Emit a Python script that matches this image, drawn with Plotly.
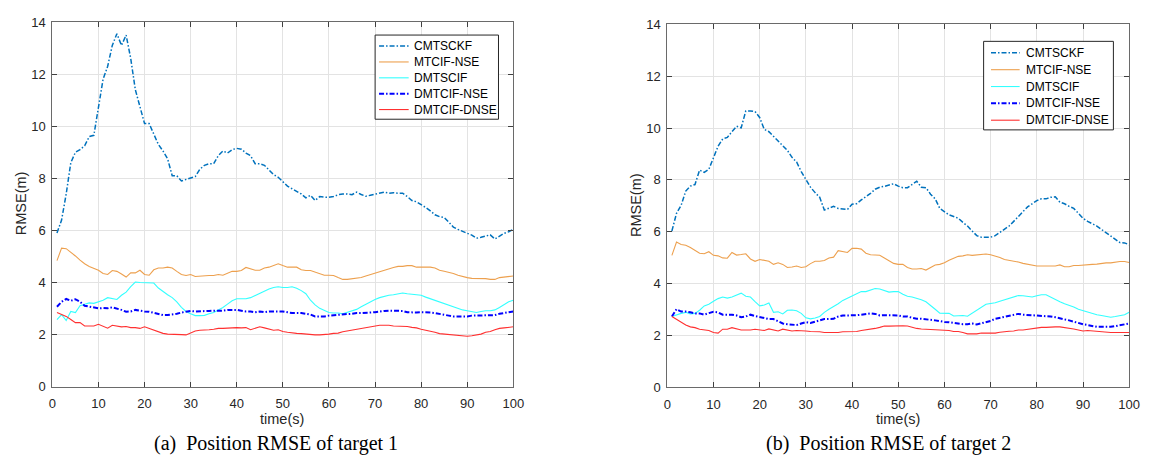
import plotly.graph_objects as go

t = list(range(1, 101))

# ---- Target 1 ----
cmtsckf_1 = [5.9, 6.4, 7.4, 8.6, 9.0, 9.1, 9.25, 9.6, 9.65, 10.7,
             11.8, 12.3, 13.1, 13.55, 13.1, 13.5, 12.6, 11.4, 10.8, 10.1,
             10.1, 9.7, 9.3, 9.05, 8.75, 8.1, 8.1, 7.9, 7.95, 8.0,
             8.07, 8.35, 8.5, 8.56, 8.56, 8.87, 9.05, 8.97, 9.1, 9.15,
             9.12, 8.97, 8.87, 8.56, 8.56, 8.5, 8.32, 8.14, 8.04, 7.85,
             7.7, 7.6, 7.5, 7.4, 7.25, 7.35, 7.15, 7.3, 7.28, 7.27,
             7.3, 7.37, 7.4, 7.4, 7.37, 7.47, 7.38, 7.31, 7.35, 7.4,
             7.45, 7.47, 7.43, 7.45, 7.43, 7.43, 7.3, 7.15, 7.1, 7.0,
             6.88, 6.75, 6.6, 6.53, 6.5, 6.32, 6.13, 6.04, 5.95, 5.89,
             5.82, 5.7, 5.74, 5.8, 5.83, 5.67, 5.79, 5.89, 5.95, 6.04]
mtcif_nse_1 = [4.84, 5.32, 5.30, 5.17, 5.02, 4.86, 4.72, 4.62, 4.56, 4.47,
               4.35, 4.31, 4.46, 4.43, 4.33, 4.21, 4.37, 4.37, 4.47, 4.31,
               4.28, 4.49, 4.56, 4.56, 4.59, 4.56, 4.43, 4.31, 4.27, 4.31,
               4.23, 4.25, 4.25, 4.27, 4.27, 4.31, 4.28, 4.37, 4.43, 4.43,
               4.46, 4.58, 4.53, 4.47, 4.47, 4.56, 4.59, 4.65, 4.72, 4.65,
               4.59, 4.59, 4.59, 4.49, 4.46, 4.46, 4.40, 4.35, 4.28, 4.28,
               4.27, 4.19, 4.12, 4.12, 4.15, 4.16, 4.19, 4.25, 4.31, 4.37,
               4.43, 4.49, 4.53, 4.58, 4.62, 4.62, 4.65, 4.65, 4.59, 4.59,
               4.59, 4.59, 4.56, 4.47, 4.43, 4.40, 4.35, 4.28, 4.22, 4.19,
               4.16, 4.16, 4.15, 4.15, 4.12, 4.12, 4.19, 4.21, 4.22, 4.25]
dmtscif_1 = [2.58, 2.77, 2.54, 2.89, 2.85, 3.11, 3.17, 3.22, 3.20, 3.26,
             3.32, 3.42, 3.38, 3.35, 3.51, 3.63, 3.84, 4.02, 4.00, 4.00,
             3.98, 3.98, 3.79, 3.65, 3.53, 3.42, 3.26, 3.05, 2.89, 2.80,
             2.73, 2.73, 2.74, 2.80, 2.85, 2.95, 3.04, 3.17, 3.30, 3.38,
             3.38, 3.38, 3.42, 3.51, 3.60, 3.69, 3.75, 3.81, 3.84, 3.81,
             3.81, 3.84, 3.78, 3.69, 3.57, 3.32, 3.14, 3.01, 2.92, 2.85,
             2.83, 2.83, 2.80, 2.85, 2.91, 2.97, 3.07, 3.17, 3.26, 3.35,
             3.42, 3.47, 3.51, 3.53, 3.57, 3.60, 3.57, 3.55, 3.53, 3.51,
             3.44, 3.38, 3.32, 3.26, 3.20, 3.14, 3.07, 3.01, 2.95, 2.92,
             2.89, 2.85, 2.89, 2.92, 2.92, 2.95, 3.04, 3.14, 3.26, 3.32]
dmtcif_nse_1 = [3.07, 3.26, 3.37, 3.30, 3.36, 3.26, 3.11, 3.07, 3.05, 3.01,
                3.02, 3.01, 3.05, 3.01, 2.95, 2.88, 2.89, 2.95, 2.91, 2.89,
                2.88, 2.83, 2.79, 2.75, 2.75, 2.77, 2.80, 2.85, 2.89, 2.91,
                2.89, 2.89, 2.89, 2.91, 2.92, 2.92, 2.92, 2.95, 2.95, 2.95,
                2.92, 2.89, 2.89, 2.86, 2.89, 2.86, 2.89, 2.89, 2.89, 2.89,
                2.86, 2.83, 2.83, 2.83, 2.80, 2.77, 2.70, 2.70, 2.70, 2.73,
                2.75, 2.77, 2.77, 2.79, 2.80, 2.83, 2.83, 2.83, 2.85, 2.86,
                2.89, 2.91, 2.92, 2.92, 2.92, 2.91, 2.86, 2.85, 2.85, 2.86,
                2.86, 2.85, 2.83, 2.79, 2.77, 2.73, 2.70, 2.70, 2.70, 2.70,
                2.73, 2.73, 2.73, 2.74, 2.74, 2.75, 2.80, 2.83, 2.85, 2.89]
dmtcif_dnse_1 = [2.85, 2.79, 2.70, 2.58, 2.46, 2.46, 2.33, 2.33, 2.33, 2.40,
                 2.33, 2.25, 2.36, 2.33, 2.30, 2.31, 2.27, 2.27, 2.24, 2.30,
                 2.24, 2.17, 2.11, 2.05, 2.02, 2.02, 2.02, 2.00, 1.99, 2.06,
                 2.14, 2.17, 2.17, 2.19, 2.21, 2.24, 2.24, 2.25, 2.27, 2.27,
                 2.26, 2.27, 2.19, 2.24, 2.30, 2.26, 2.21, 2.17, 2.19, 2.12,
                 2.09, 2.06, 2.05, 2.04, 2.02, 2.00, 1.99, 1.99, 2.00, 2.02,
                 2.05, 2.06, 2.11, 2.14, 2.17, 2.20, 2.24, 2.27, 2.31, 2.33,
                 2.36, 2.36, 2.36, 2.33, 2.33, 2.31, 2.31, 2.28, 2.26, 2.21,
                 2.17, 2.15, 2.09, 2.04, 2.02, 2.02, 2.00, 1.96, 1.96, 1.94,
                 1.96, 1.99, 2.02, 2.09, 2.12, 2.19, 2.24, 2.26, 2.28, 2.30]

# ---- Target 2 ----
cmtsckf_2 = [6.03, 6.71, 7.02, 7.57, 7.76, 7.82, 8.38, 8.29, 8.41, 8.87,
             9.30, 9.58, 9.64, 9.86, 10.07, 10.01, 10.66, 10.66, 10.64, 10.41,
             9.95, 9.86, 9.67, 9.49, 9.30, 9.14, 8.87, 8.69, 8.32, 8.00,
             7.72, 7.51, 7.33, 6.84, 6.90, 6.98, 6.90, 6.87, 6.86, 7.06,
             7.08, 7.23, 7.35, 7.48, 7.64, 7.72, 7.75, 7.80, 7.85, 7.76,
             7.70, 7.70, 7.82, 7.95, 7.72, 7.70, 7.45, 7.27, 6.90, 6.77,
             6.65, 6.59, 6.52, 6.36, 6.22, 6.03, 5.85, 5.79, 5.79, 5.79,
             5.85, 5.97, 6.07, 6.22, 6.40, 6.59, 6.77, 6.96, 7.08, 7.20,
             7.27, 7.27, 7.33, 7.35, 7.14, 7.08, 6.98, 6.90, 6.71, 6.52,
             6.40, 6.31, 6.22, 6.09, 5.97, 5.85, 5.72, 5.58, 5.57, 5.50]
mtcif_nse_2 = [5.09, 5.60, 5.51, 5.48, 5.39, 5.27, 5.17, 5.15, 5.23, 5.09,
               5.07, 4.99, 4.98, 5.20, 5.10, 5.12, 5.15, 4.95, 4.86, 4.93,
               4.90, 4.86, 4.74, 4.80, 4.74, 4.62, 4.64, 4.68, 4.62, 4.65,
               4.77, 4.86, 4.86, 4.89, 4.99, 5.02, 5.27, 5.23, 5.20, 5.36,
               5.36, 5.33, 5.17, 5.11, 5.11, 5.09, 4.99, 4.89, 4.78, 4.74,
               4.74, 4.62, 4.56, 4.56, 4.58, 4.52, 4.62, 4.72, 4.74, 4.80,
               4.90, 4.99, 5.05, 5.07, 5.11, 5.09, 5.11, 5.11, 5.14, 5.11,
               5.07, 5.01, 4.93, 4.90, 4.86, 4.83, 4.78, 4.74, 4.72, 4.68,
               4.68, 4.68, 4.70, 4.68, 4.72, 4.65, 4.65, 4.70, 4.70, 4.72,
               4.73, 4.74, 4.75, 4.78, 4.80, 4.80, 4.83, 4.85, 4.85, 4.81]
dmtscif_2 = [2.73, 2.80, 2.85, 2.89, 2.83, 2.85, 2.97, 3.14, 3.20, 3.32,
             3.42, 3.48, 3.44, 3.48, 3.54, 3.63, 3.51, 3.48, 3.30, 3.14,
             3.17, 3.25, 2.89, 2.91, 2.83, 2.97, 2.98, 2.95, 2.85, 2.68,
             2.64, 2.67, 2.73, 2.89, 3.01, 3.11, 3.22, 3.35, 3.44, 3.51,
             3.60, 3.69, 3.69, 3.75, 3.81, 3.79, 3.72, 3.67, 3.69, 3.69,
             3.59, 3.51, 3.48, 3.44, 3.38, 3.30, 3.17, 3.01, 2.86, 2.85,
             2.85, 2.75, 2.77, 2.77, 2.74, 2.86, 2.95, 3.07, 3.20, 3.23,
             3.26, 3.32, 3.38, 3.44, 3.51, 3.54, 3.53, 3.51, 3.48, 3.53,
             3.57, 3.57, 3.47, 3.38, 3.30, 3.22, 3.17, 3.10, 3.01, 2.95,
             2.91, 2.85, 2.80, 2.77, 2.73, 2.70, 2.73, 2.77, 2.80, 2.89]
dmtcif_nse_2 = [2.73, 3.01, 2.92, 2.92, 2.89, 2.85, 2.85, 2.80, 2.86, 2.91,
                2.89, 2.80, 2.80, 2.80, 2.77, 2.70, 2.73, 2.80, 2.75, 2.70,
                2.67, 2.63, 2.63, 2.56, 2.46, 2.43, 2.41, 2.40, 2.46, 2.51,
                2.48, 2.52, 2.58, 2.63, 2.63, 2.64, 2.73, 2.77, 2.77, 2.77,
                2.78, 2.80, 2.83, 2.85, 2.83, 2.77, 2.78, 2.78, 2.77, 2.77,
                2.73, 2.73, 2.68, 2.64, 2.64, 2.63, 2.60, 2.58, 2.54, 2.52,
                2.51, 2.48, 2.46, 2.43, 2.43, 2.46, 2.42, 2.46, 2.52, 2.56,
                2.64, 2.68, 2.73, 2.77, 2.80, 2.83, 2.80, 2.79, 2.77, 2.78,
                2.77, 2.75, 2.73, 2.70, 2.67, 2.62, 2.58, 2.52, 2.48, 2.43,
                2.40, 2.37, 2.33, 2.33, 2.33, 2.33, 2.36, 2.40, 2.43, 2.46]
dmtcif_dnse_2 = [2.73, 2.62, 2.49, 2.40, 2.33, 2.30, 2.24, 2.21, 2.19, 2.11,
                 2.09, 2.24, 2.24, 2.30, 2.25, 2.21, 2.21, 2.21, 2.24, 2.21,
                 2.19, 2.25, 2.21, 2.17, 2.24, 2.21, 2.17, 2.19, 2.19, 2.17,
                 2.15, 2.15, 2.14, 2.11, 2.11, 2.09, 2.11, 2.14, 2.15, 2.14,
                 2.15, 2.19, 2.21, 2.24, 2.27, 2.31, 2.36, 2.36, 2.37, 2.37,
                 2.37, 2.36, 2.31, 2.27, 2.25, 2.24, 2.21, 2.21, 2.21, 2.19,
                 2.19, 2.15, 2.15, 2.11, 2.06, 2.06, 2.06, 2.09, 2.09, 2.09,
                 2.09, 2.12, 2.15, 2.16, 2.17, 2.21, 2.21, 2.24, 2.26, 2.28,
                 2.31, 2.31, 2.33, 2.33, 2.33, 2.31, 2.27, 2.25, 2.21, 2.17,
                 2.19, 2.17, 2.15, 2.15, 2.12, 2.11, 2.11, 2.11, 2.11, 2.11]

names = ["CMTSCKF", "MTCIF-NSE", "DMTSCIF", "DMTCIF-NSE", "DMTCIF-DNSE"]
x_ticks = [0, 10, 20, 30, 40, 50, 60, 70, 80, 90, 100]
y_ticks = [0, 2, 4, 6, 8, 10, 12, 14]
captions = ["(a)  Position RMSE of target 1", "(b)  Position RMSE of target 2"]

DASHDOT = "5px,2px,1.5px,2px"
styles = [
    dict(color="#0072BD", width=1.5, dash=DASHDOT),
    dict(color="#EDA04E", width=1.1, dash="solid"),
    dict(color="#33FFFF", width=1.1, dash="solid"),
    dict(color="#0000FF", width=2.0, dash=DASHDOT),
    dict(color="#FF3030", width=1.1, dash="solid"),
]

series1 = [cmtsckf_1, mtcif_nse_1, dmtscif_1, dmtcif_nse_1, dmtcif_dnse_1]
series2 = [cmtsckf_2, mtcif_nse_2, dmtscif_2, dmtcif_nse_2, dmtcif_dnse_2]

W, H = 1155, 462
fig = go.Figure()
for i, (nm, ys) in enumerate(zip(names, series1)):
    fig.add_trace(go.Scatter(x=t, y=ys, mode="lines", name=nm, line=styles[i],
                             xaxis="x", yaxis="y", showlegend=False))
for i, (nm, ys) in enumerate(zip(names, series2)):
    fig.add_trace(go.Scatter(x=t, y=ys, mode="lines", name=nm, line=styles[i],
                             xaxis="x2", yaxis="y2", showlegend=False))

SANS = "Liberation Sans, Arial, sans-serif"
tickfont = dict(family=SANS, size=13, color="#262626")
axis_common = dict(
    showline=True, linecolor="#6a6a6a", linewidth=1, mirror="ticks",
    ticks="inside", ticklen=5, tickcolor="#404040", tickwidth=1,
    showgrid=True, gridcolor="#e3e3e3", gridwidth=1, zeroline=False,
    tickfont=tickfont,
)


def px_x(p):
    return p / W


def px_y(p):
    return 1 - p / H


fig.update_layout(
    width=W, height=H,
    margin=dict(l=0, r=0, t=0, b=0),
    paper_bgcolor="white", plot_bgcolor="white",
    showlegend=False,
    xaxis=dict(domain=[px_x(49), px_x(516)], range=[0, 100], tickvals=x_ticks,
               anchor="y", ticklabelstandoff=5, **axis_common),
    yaxis=dict(domain=[px_y(392.5), px_y(15.5)], range=[0, 14], tickvals=y_ticks,
               anchor="x", ticklabelstandoff=3, **axis_common),
    xaxis2=dict(domain=[px_x(672), px_x(1140)], range=[0, 100], tickvals=x_ticks,
                anchor="y2", ticklabelstandoff=5, **axis_common),
    yaxis2=dict(domain=[px_y(393), px_y(18)], range=[0, 14], tickvals=y_ticks,
                anchor="x2", ticklabelstandoff=3, **axis_common),
)

shapes = []
ann = []

# legend boxes (drawn as in the original figure)
legend_specs = [
    dict(box=(376, 29, 501, 116), line_x=(380, 410), text_x=413,
         rows=[40.3, 56.8, 73.2, 89.6, 106.0]),
    dict(box=(992.5, 35.5, 1124, 127), line_x=(1000, 1029), text_x=1033,
         rows=[47.3, 64.8, 82.2, 99.6, 117.0]),
]
legend_font = dict(family=SANS, size=12, color="#000")
for spec in legend_specs:
    x0, y0, x1, y1 = spec["box"]
    shapes.append(dict(type="rect", xref="paper", yref="paper",
                       x0=px_x(x0), x1=px_x(x1), y0=px_y(y1), y1=px_y(y0),
                       line=dict(color="#262626", width=1), fillcolor="white",
                       layer="above"))
    for i, nm in enumerate(names):
        ry = spec["rows"][i]
        st = styles[i]
        shapes.append(dict(type="line", xref="paper", yref="paper",
                           x0=px_x(spec["line_x"][0]), x1=px_x(spec["line_x"][1]),
                           y0=px_y(ry), y1=px_y(ry),
                           line=dict(color=st["color"], width=st["width"], dash=st["dash"]),
                           layer="above"))
        ann.append(dict(text=nm, x=px_x(spec["text_x"]), y=px_y(ry), xref="paper", yref="paper",
                        showarrow=False, font=legend_font, xanchor="left", yanchor="middle"))

label_font = dict(family=SANS, size=14.5, color="#262626")
cap_font = dict(family="Liberation Serif, Times New Roman, serif", size=20, color="#000")
ann += [
    dict(text="time(s)", x=px_x(282), y=px_y(426), xref="paper", yref="paper",
         showarrow=False, font=label_font, xanchor="center", yanchor="middle"),
    dict(text="time(s)", x=px_x(906), y=px_y(426), xref="paper", yref="paper",
         showarrow=False, font=label_font, xanchor="center", yanchor="middle"),
    dict(text="RMSE(m)", x=px_x(18), y=px_y(203), xref="paper", yref="paper",
         showarrow=False, font=label_font, textangle=-90, xanchor="center", yanchor="middle"),
    dict(text="RMSE(m)", x=px_x(641), y=px_y(205), xref="paper", yref="paper",
         showarrow=False, font=label_font, textangle=-90, xanchor="center", yanchor="middle"),
    dict(text=captions[0], x=px_x(276), y=px_y(451), xref="paper", yref="paper",
         showarrow=False, font=cap_font, xanchor="center", yanchor="middle"),
    dict(text=captions[1], x=px_x(896), y=px_y(451), xref="paper", yref="paper",
         showarrow=False, font=cap_font, xanchor="center", yanchor="middle"),
]
fig.update_layout(shapes=shapes, annotations=ann)

fig.write_html("out.html")
